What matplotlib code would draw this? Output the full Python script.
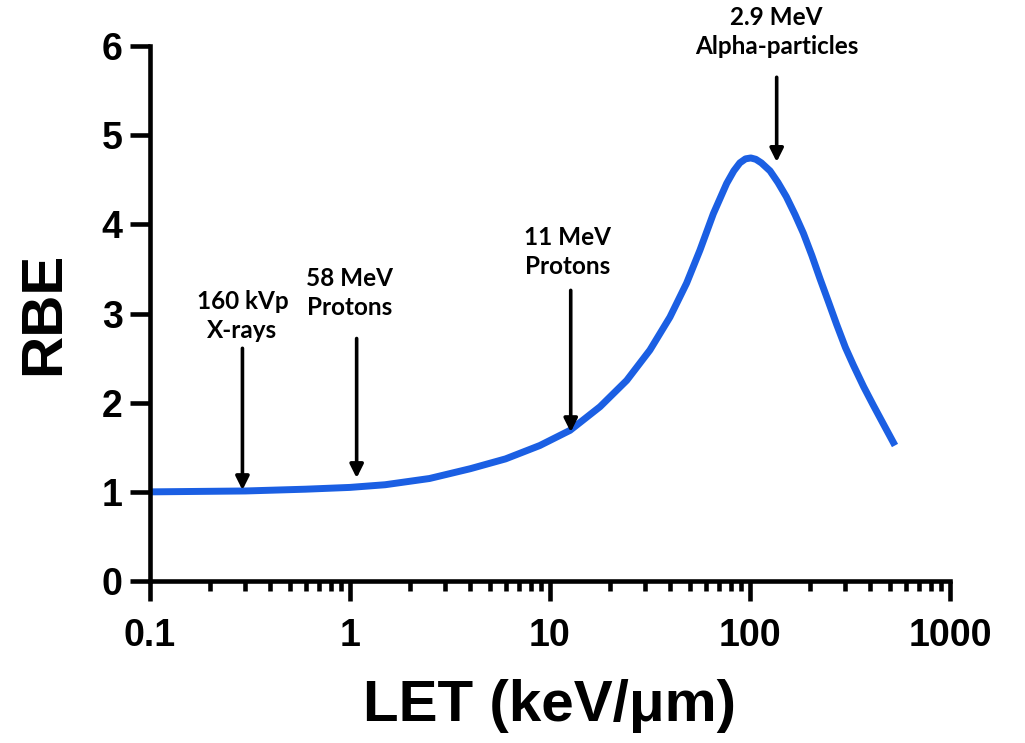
import matplotlib
matplotlib.use("Agg")
import matplotlib.pyplot as plt

# RBE vs LET curve
let_vals = [0.1, 0.3, 0.6, 1, 1.5, 2.5, 4, 6, 8.9, 12.6, 17.8, 24.2, 31.6, 39.8, 48.2,
            56.2, 65.6, 76.5, 83, 89, 95, 101, 107, 114, 126, 138, 152, 168, 185, 204,
            224, 247, 271, 300, 329, 370, 414, 470, 531]
rbe_vals = [1.0, 1.01, 1.03, 1.05, 1.08, 1.15, 1.26, 1.37, 1.52, 1.69, 1.955, 2.25, 2.59, 2.96, 3.34,
            3.71, 4.12, 4.46, 4.6, 4.69, 4.735, 4.745, 4.73, 4.69, 4.6, 4.47, 4.31, 4.11, 3.9, 3.65,
            3.39, 3.13, 2.88, 2.62, 2.42, 2.18, 1.97, 1.74, 1.52]

# annotations: label, x of arrow, arrow tail, arrow tip, text centre
ann_labels = ["160 kVp\nX-rays", "58 MeV\nProtons", "11 MeV\nProtons", "2.9 MeV\nAlpha-particles"]
ann_x = [0.29, 1.08, 12.7, 136]
ann_tail = [2.61, 2.72, 3.26, 5.65]
ann_tip = [1.02, 1.155, 1.67, 4.70]
ann_text_x = [0.29, 1.0, 12.2, 136]
ann_text_y = [2.97, 3.23, 3.69, 6.16]

fig = plt.figure(figsize=(10.25, 7.43), dpi=100)
ax = fig.add_axes([0.1463, 0.218, 0.7805, 0.72])

ax.plot(let_vals, rbe_vals, color="#1b5fe3", lw=5, solid_capstyle="butt", solid_joinstyle="round")

ax.set_xscale("log")
ax.set_xlim(0.1, 1000)
ax.set_ylim(0, 6)
ax.set_yticks(range(0, 7))
ax.set_xticks([0.1, 1, 10, 100, 1000])
ax.set_xticklabels(["0.1", "1", "10", "100", "1000"])

for s in ["top", "right"]:
    ax.spines[s].set_visible(False)
for s in ["left", "bottom"]:
    ax.spines[s].set_linewidth(3.3)

tick_font = {"family": "Liberation Sans", "weight": "bold", "size": 27}
ax.tick_params(which="major", length=14.5, width=3.3)
ax.tick_params(which="minor", length=7.5, width=3.3)
ax.tick_params(axis="x", which="major", pad=12)
ax.tick_params(axis="y", which="major", pad=5)
for lab in ax.get_xticklabels() + ax.get_yticklabels():
    lab.set_fontproperties(tick_font)

ax.set_xlabel("LET (keV/\u03bcm)", family="Liberation Sans", weight="bold", fontsize=42, labelpad=18)
ax.set_ylabel("RBE", family="Liberation Sans", weight="bold", fontsize=42, labelpad=22)

for lab, x, tail, tip, tx, ty in zip(ann_labels, ann_x, ann_tail, ann_tip, ann_text_x, ann_text_y):
    ax.annotate("", xy=(x, tip), xytext=(x, tail),
                arrowprops=dict(arrowstyle="-|>,head_length=0.8,head_width=0.4", color="black", lw=2.6,
                                shrinkA=0, shrinkB=0))
    ax.text(tx, ty, lab, ha="center", va="center", family="Lato", weight="bold",
            fontsize=17.5, linespacing=1.3, clip_on=False)

fig.savefig("out.png", dpi=100)
